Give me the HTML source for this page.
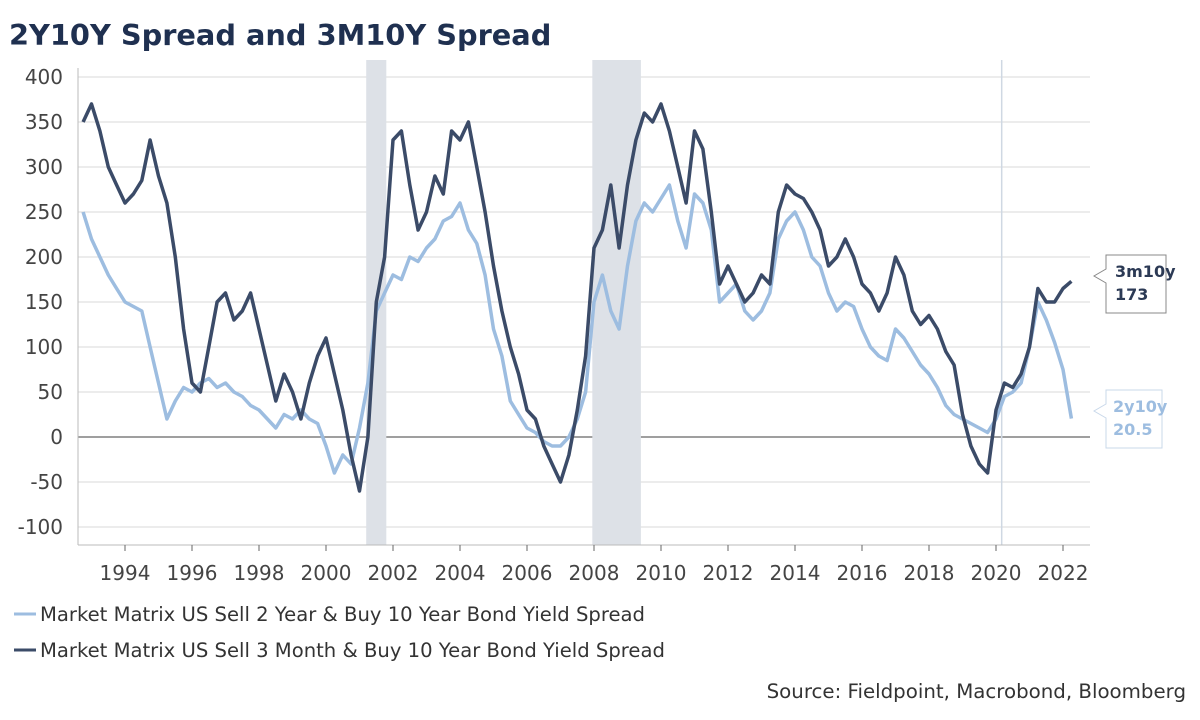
<!DOCTYPE html>
<html><head><meta charset="utf-8">
<style>
body{margin:0;background:#fff;width:1200px;height:716px;overflow:hidden;font-family:"DejaVu Sans","Liberation Sans",sans-serif;}
svg text{font-family:"DejaVu Sans","Liberation Sans",sans-serif;}
</style></head>
<body>
<svg id="chart" width="1200" height="716" xmlns="http://www.w3.org/2000/svg">
<text x="9" y="45" font-size="28.8" font-weight="bold" fill="#1f3050">2Y10Y Spread and 3M10Y Spread</text>
<g id="grid"></g><g id="bands"></g><g id="series"></g><g id="axes"></g>
<g font-size="19.6" fill="#333">
<line x1="14" y1="614" x2="36" y2="614" stroke="#9dbde0" stroke-width="3"/>
<text x="40" y="621">Market Matrix US Sell 2 Year &amp; Buy 10 Year Bond Yield Spread</text>
<line x1="14" y1="650" x2="36" y2="650" stroke="#3b4b68" stroke-width="3"/>
<text x="40" y="657">Market Matrix US Sell 3 Month &amp; Buy 10 Year Bond Yield Spread</text>
</g>
<text x="1186" y="698" text-anchor="end" font-size="19.8" fill="#333">Source: Fieldpoint, Macrobond, Bloomberg</text>
<g>
<path d="M1106,255 H1166 V313 H1106 V283 L1094,276 L1106,269 Z" fill="#fff" stroke="#888" stroke-width="1"/>
<text x="1115" y="277" font-size="16" font-weight="bold" fill="#2c3a55">3m10y</text>
<text x="1115" y="300" font-size="16" font-weight="bold" fill="#2c3a55">173</text>
</g>
<g>
<path d="M1106,390 H1162 V448 H1106 V418 L1094,411 L1106,404 Z" fill="#fff" stroke="#c9d8ea" stroke-width="1"/>
<text x="1113" y="412" font-size="16" font-weight="bold" fill="#9dbde0">2y10y</text>
<text x="1113" y="435" font-size="16" font-weight="bold" fill="#9dbde0">20.5</text>
</g>
</svg>
<script>
const startYear = 1992.75;
const stepYears = 0.25;
const spread3m10y = [350,370,340,300,280,260,270,285,330,290,260,200,120,60,50,100,150,160,130,140,160,120,80,40,70,50,20,60,90,110,70,30,-20,-60,0,150,200,330,340,280,230,250,290,270,340,330,350,300,250,190,140,100,70,30,20,-10,-30,-50,-20,30,90,210,230,280,210,280,330,360,350,370,340,300,260,340,320,250,170,190,170,150,160,180,170,250,280,270,265,250,230,190,200,220,200,170,160,140,160,200,180,140,125,135,120,95,80,25,-10,-30,-40,30,60,55,70,100,165,150,150,165,173];
const spread2y10y = [250,220,200,180,165,150,145,140,100,60,20,40,55,50,60,65,55,60,50,45,35,30,20,10,25,20,30,20,15,-10,-40,-20,-30,10,60,140,160,180,175,200,195,210,220,240,245,260,230,215,180,120,90,40,25,10,5,-5,-10,-10,0,20,50,150,180,140,120,190,240,260,250,265,280,240,210,270,260,230,150,160,170,140,130,140,160,220,240,250,230,200,190,160,140,150,145,120,100,90,85,120,110,95,80,70,55,35,25,20,15,10,5,20,45,50,60,100,150,130,105,75,20.5];
const yTicks = [400,350,300,250,200,150,100,50,0,-50,-100];
const xTicks = [1994,1996,1998,2000,2002,2004,2006,2008,2010,2012,2014,2016,2018,2020,2022];
const recessions = [[2001.2,2001.8],[2007.95,2009.4]];
const pandemicMarker = 2020.17;

const NS='http://www.w3.org/2000/svg';
const L=78,R=1090,T=68,B=545;
const x=yr=>125+(yr-1994)*33.5;
const y=v=>437-v*0.9;
function mk(tag,attrs,parent){const e=document.createElementNS(NS,tag);for(const k in attrs)e.setAttribute(k,attrs[k]);parent.appendChild(e);return e;}
const grid=document.getElementById('grid'),axes=document.getElementById('axes'),bands=document.getElementById('bands'),series=document.getElementById('series');
yTicks.forEach(v=>{
  const g=mk('line',{x1:L,x2:R,y1:y(v),y2:y(v),stroke:v===0?'#666':'#d9d9d9','stroke-width':v===0?1.3:1},grid);
  
  
  const t=mk('text',{x:63,y:y(v)+7,'text-anchor':'end','font-size':20,fill:'#444'},axes);
  t.textContent=v;
  
  
});
mk('line',{x1:L,x2:L,y1:T,y2:B,stroke:'#bbb'},axes);
mk('line',{x1:L,x2:R,y1:B,y2:B,stroke:'#bbb'},axes);
xTicks.forEach(yr=>{
  const tk=mk('line',{x1:x(yr),x2:x(yr),y1:B,y2:B+6,stroke:'#666'},axes);
  
  
  const t=mk('text',{x:x(yr),y:B+35,'text-anchor':'middle','font-size':20,fill:'#444'},axes);
  t.textContent=yr;
  
  
});
recessions.forEach(r=>{
  const b=mk('rect',{x:x(r[0]),y:60,width:x(r[1])-x(r[0]),height:B-60,fill:'#dde1e7'},bands);
  
  
});
const pm=mk('line',{x1:x(pandemicMarker),x2:x(pandemicMarker),y1:60,y2:B,stroke:'#cfd8e3','stroke-width':1.5},bands);


function line(vals,color,name){
  const d=vals.map((v,i)=>(i?'L':'M')+x(startYear+i*stepYears).toFixed(1)+','+y(v).toFixed(1)).join('');
  const p=mk('path',{d:d,fill:'none',stroke:color,'stroke-width':3.5,'stroke-linejoin':'round'},series);
  
  
}
line(spread2y10y,'#9dbde0','line-2y10y');
line(spread3m10y,'#3b4b68','line-3m10y');
</script>
</body></html>
